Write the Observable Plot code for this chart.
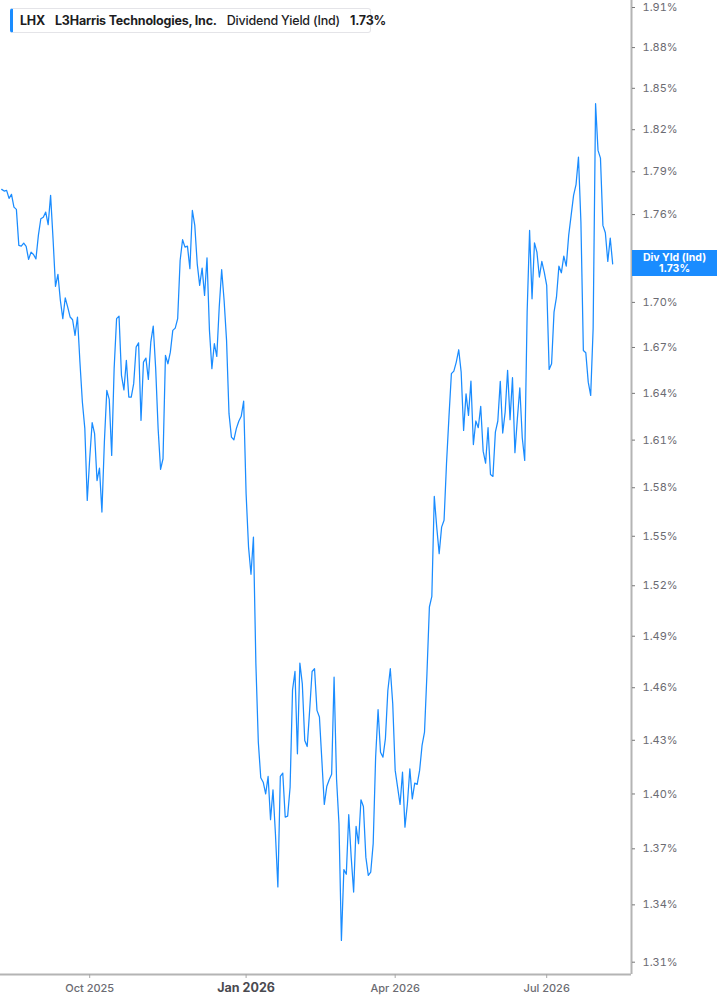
<!DOCTYPE html>
<html>
<head>
<meta charset="utf-8">
<script src="https://cdn.jsdelivr.net/npm/d3@7"></script>
<script src="https://cdn.jsdelivr.net/npm/@observablehq/plot@0.6"></script>
<style>
  html, body { margin: 0; padding: 0; background: #fff; }
  #wrap { position: relative; width: 717px; height: 1005px; font-family: Inter, "Noto Sans", sans-serif; }
  #legend { position: absolute; left: 10px; top: 8px; height: 25px; width: 361px; box-sizing: border-box;
    border: 1px solid #e4e4e8; border-left: 3px solid #1a8cff; border-radius: 3px; background: #fff;
    font-size: 12.5px; color: #1d1d1f; line-height: 23px; padding-left: 7px; white-space: nowrap; letter-spacing: -0.2px; }
  #legend b { font-weight: 700; }
  #legend .m { font-weight: 500; }
  #badge { position: absolute; left: 632px; width: 85px; height: 26px; background: #1a8cff; color: #fff;
    font-size: 10.5px; font-weight: 700; text-align: center; line-height: 11px; padding-top: 2px; box-sizing: border-box; }
  #badge div { height: 11px; }
  svg { display: block; }
</style>
</head>
<body>
<div id="wrap"></div>
<script>
// Dividend yield (%) per trading day, Aug 2025 – Aug 2026
const values = [
  1.7776,1.7764,1.7769,1.7713,1.7741,1.7652,1.7636,1.7387,1.7382,1.7403,
  1.7380,1.7291,1.7341,1.7325,1.7295,1.7456,1.7571,1.7582,1.7617,1.7530,
  1.7734,1.7433,1.7108,1.7189,1.7013,1.6891,1.7031,1.6968,1.6902,1.6884,
  1.6780,1.6902,1.6604,1.6344,1.6175,1.5721,1.5982,1.6211,1.6141,1.5845,
  1.5923,1.5649,1.6087,1.6419,1.6361,1.6003,1.6561,1.6891,1.6908,1.6517,
  1.6423,1.6615,1.6376,1.6376,1.6463,1.6702,1.6731,1.6226,1.6604,1.6630,
  1.6491,1.6735,1.6842,1.6561,1.6173,1.5915,1.5982,1.6648,1.6593,1.6669,
  1.6813,1.6828,1.6891,1.7284,1.7426,1.7375,1.7382,1.7228,1.7629,1.7525,
  1.7261,1.7115,1.7232,1.7047,1.7302,1.6813,1.6561,1.6725,1.6641,1.6968,
  1.7221,1.7013,1.6747,1.6269,1.6119,1.6102,1.6173,1.6220,1.6252,1.6350,
  1.5762,1.5434,1.5269,1.5495,1.4739,1.4289,1.4090,1.4065,1.4001,1.4097,
  1.3859,1.4023,1.3782,1.3495,1.4097,1.4116,1.3873,1.3878,1.4037,1.4588,
  1.4694,1.4224,1.4743,1.4622,1.4299,1.4265,1.4470,1.4694,1.4710,1.4470,
  1.4432,1.4187,1.3942,1.4041,1.4079,1.4109,1.4661,1.4084,1.3837,1.3213,
  1.3588,1.3563,1.3886,1.3655,1.3468,1.3822,1.3728,1.3968,1.3931,1.3655,
  1.3557,1.3575,1.3728,1.4205,1.4474,1.4233,1.4205,1.4309,1.4584,1.4710,
  1.4508,1.4131,1.4037,1.3942,1.4121,1.3818,1.3946,1.4140,1.3973,1.4060,
  1.4053,1.4131,1.4271,1.4346,1.4681,1.5073,1.5136,1.5746,1.5556,1.5394,
  1.5556,1.5598,1.5951,1.6247,1.6528,1.6545,1.6604,1.6685,1.6538,1.6162,
  1.6397,1.6258,1.6480,1.6072,1.6222,1.6179,1.6316,1.6030,1.5954,1.6179,
  1.5883,1.5871,1.6151,1.6222,1.6478,1.6145,1.6279,1.6550,1.6231,1.6502,
  1.6020,1.6237,1.6436,1.6115,1.5971,1.6935,1.7490,1.7024,1.7405,1.7341,
  1.7171,1.7277,1.7205,1.7115,1.6556,1.6593,1.6935,1.7035,1.7245,1.7200,
  1.7313,1.7245,1.7456,1.7594,1.7734,1.7809,1.8004,1.7548,1.6680,1.6665,
  1.6473,1.6387,1.6824,1.8388,1.8052,1.7997,1.7525,1.7474,1.7277,1.7437,
  1.7261
];
// trading-day index of each month label
const monthTickIndex = [36, 100, 161, 223];
const monthTickLabels = ["Oct 2025", "Jan 2026", "Apr 2026", "Jul 2026"];
const yTicks = [1.31,1.34,1.37,1.40,1.43,1.46,1.49,1.52,1.55,1.58,1.61,1.64,1.67,1.70,1.73,1.76,1.79,1.82,1.85,1.88,1.91];
const yDomain = [1.30365, 1.91529];
const xDomain = [-0.5, 257.7];
const lastLabel = "1.73%";
const lastTick = 1.73; // its axis label sits under the value badge

const data = values.map((v, i) => ({i, v}));
const yearIdx = [monthTickIndex[1]];
const otherIdx = monthTickIndex.filter(d => d !== monthTickIndex[1]);
const labelOf = d => monthTickLabels[monthTickIndex.indexOf(d)];

const plot = Plot.plot({
  width: 717,
  height: 1005,
  marginTop: 0,
  marginLeft: 0,
  marginRight: 86,
  marginBottom: 31,
  style: {fontFamily: "Inter, 'Noto Sans', sans-serif", background: "#fff"},
  x: {domain: xDomain, axis: null},
  y: {type: "log", domain: yDomain, axis: null},
  marks: [
    Plot.line(data, {x: "i", y: "v", stroke: "#1a8cff", strokeWidth: 1.25, curve: "linear"}),
    Plot.ruleX([xDomain[1]], {stroke: "#b4b4b4", strokeWidth: 2}),
    Plot.ruleY([yDomain[0]], {stroke: "#b4b4b4", strokeWidth: 2}),
    Plot.axisX(monthTickIndex, {anchor: "bottom", tickSize: 4, tickFormat: () => "", stroke: "#a8a8a8", label: null}),
    Plot.text(otherIdx, {x: d => d, frameAnchor: "bottom", dy: 17, text: labelOf, fill: "#6b6b72", fontSize: 11, fontWeight: 500}),
    Plot.text(yearIdx, {x: d => d, frameAnchor: "bottom", dy: 17, text: labelOf, fill: "#4a4a50", fontSize: 12.5, fontWeight: 700}),
    Plot.axisY(yTicks, {anchor: "right", tickSize: 3, tickPadding: 8, stroke: "#777", fill: "#6b6b72", fontSize: 11, label: null,
      tickFormat: d => Math.abs(d - lastTick) < 1e-9 ? "" : d.toFixed(2) + "%"})
  ]
});

const wrap = document.getElementById("wrap");
wrap.appendChild(plot);

const legend = document.createElement("div");
legend.id = "legend";
legend.innerHTML = '<b>LHX</b>&nbsp;&nbsp; <b>L3Harris Technologies, Inc.</b>&nbsp;&nbsp; <span class="m">Dividend Yield (Ind)</span>&nbsp;&nbsp; <b>' + lastLabel + '</b>';
wrap.appendChild(legend);

const yLast = plot.scale("y").apply(values[values.length - 1]);
const badge = document.createElement("div");
badge.id = "badge";
badge.style.top = (yLast - 13) + "px";
badge.innerHTML = "<div>Div Yld (Ind)</div><div>" + lastLabel + "</div>";
wrap.appendChild(badge);
</script>
</body>
</html>
